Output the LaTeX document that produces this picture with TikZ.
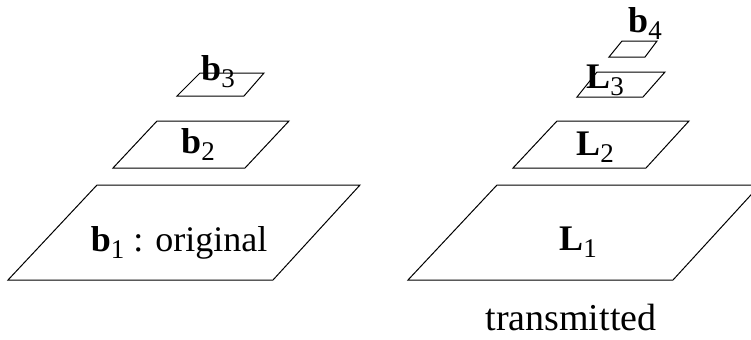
\documentclass[tikz,border=0pt]{standalone}
\usepackage{fontspec}
\setmainfont{Liberation Serif}
\usepackage{tikz}

\newcommand{\plab}[2]{\textbf{#1}\raisebox{-3.5pt}{\fontsize{13.5}{14}\selectfont #2}}

\tikzset{
    plane/.style={draw=black, line width=0.5pt, line join=miter},
    lab/.style={anchor=base, inner sep=0pt, font=\fontsize{18}{21}\selectfont}
}

\begin{document}
\begin{tikzpicture}[x=0.5pt, y=-0.5pt]
    \clip (0,0) rectangle (751,339);

    % Original levels
    \draw[plane] (8,280) -- (273,280) -- (360,185) -- (97,185) -- cycle;
    \draw[plane] (113,168) -- (245,168) -- (289,121) -- (157,121) -- cycle;
    \draw[plane] (177,96) -- (244,96) -- (264,73) -- (200,73) -- cycle;
    \node[lab] (b1) at (179,251) {\plab{b}{1} : original};
    \node[lab] (b2) at (198,153) {\plab{b}{2}};
    \node[lab] (b3) at (218,80) {\plab{b}{3}};

    % Transmitted levels
    \draw[plane] (408,280) -- (673,280) -- (760,185) -- (497,185) -- cycle;
    \draw[plane] (513,168) -- (646,168) -- (689,121) -- (557,121) -- cycle;
    \draw[plane] (577,97) -- (643,97) -- (665,72) -- (597,72) -- cycle;
    \draw[plane] (609,57) -- (645,57) -- (657,41) -- (622,41) -- cycle;
    \node[lab] (L1) at (578,250) {\plab{L}{1}};
    \node[lab] (L2) at (595,155) {\plab{L}{2}};
    \node[lab] (L3) at (605,88) {\plab{L}{3}};
    \node[lab] (b4) at (645,32) {\plab{b}{4}};
    \node[lab, font=\fontsize{19}{22}\selectfont] (tx) at (571,330) {transmitted};

\end{tikzpicture}
\end{document}
